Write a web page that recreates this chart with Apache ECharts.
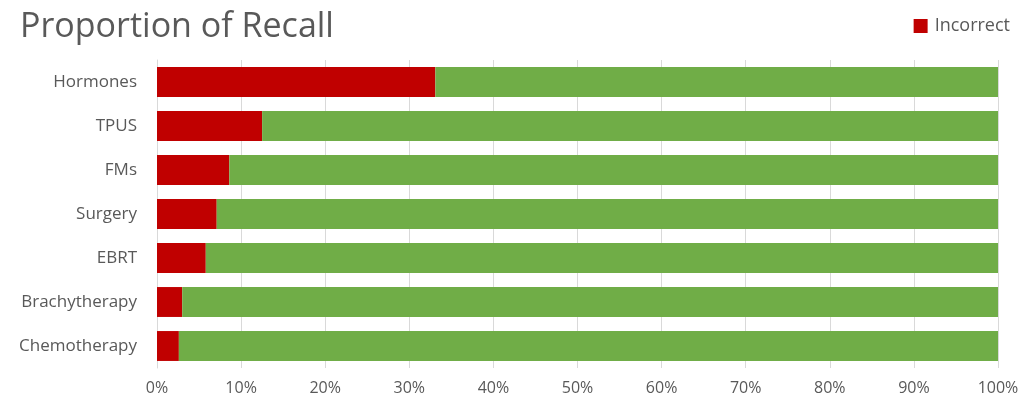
<!DOCTYPE html>
<html><head><meta charset="utf-8">
<script src="https://cdn.jsdelivr.net/npm/echarts@6/dist/echarts.min.js"></script>
<style>html,body{margin:0;padding:0;background:#fff}#c{width:1019px;height:401px}</style>
</head><body><div id="c"></div>
<script>
const categories = ['Hormones','TPUS','FMs','Surgery','EBRT','Brachytherapy','Chemotherapy'];
const incorrect = [33.1, 12.5, 8.6, 7.1, 5.8, 3.0, 2.6];
const correct = incorrect.map(v => +(100 - v).toFixed(1));
const xTicks = [0,10,20,30,40,50,60,70,80,90,100];

const chart = echarts.init(document.getElementById('c'));
chart.setOption({
  animation: false,
  title: { text: 'Proportion of Recall', left: 15, top: 5,
    textStyle: { fontFamily: 'Open Sans', fontSize: 34, fontWeight: 'normal', color: '#595959' } },
  legend: { data: ['Incorrect'], right: 4, top: 12, itemWidth: 14, itemHeight: 14, itemGap: 6,
    icon: 'rect', textStyle: { fontFamily: 'Open Sans', fontSize: 18, color: '#595959', padding: [0,0,0,2] } },
  grid: { left: 157, right: 21, top: 60, bottom: 33, containLabel: false, outerBoundsMode: 'none' },
  xAxis: { type: 'value', min: 0, max: 100, interval: 10,
    axisLabel: { formatter: v => v + '%', fontFamily: 'Open Sans', fontSize: 16, color: '#595959', margin: 12 },
    splitLine: { lineStyle: { color: '#d9d9d9' } },
    axisLine: { show: false }, axisTick: { show: false } },
  yAxis: { type: 'category', data: categories, inverse: true,
    axisLabel: { fontFamily: 'Open Sans', fontSize: 17, color: '#595959', margin: 20 },
    axisLine: { show: true, lineStyle: { color: '#d9d9d9' } }, axisTick: { show: false } },
  series: [
    { name: 'Incorrect', type: 'bar', stack: 'a', data: incorrect, barWidth: '68%',
      itemStyle: { color: '#C00000' } },
    { name: 'Correct', type: 'bar', stack: 'a', data: correct, barWidth: '68%',
      itemStyle: { color: '#70AD47' } }
  ]
});
</script></body></html>
